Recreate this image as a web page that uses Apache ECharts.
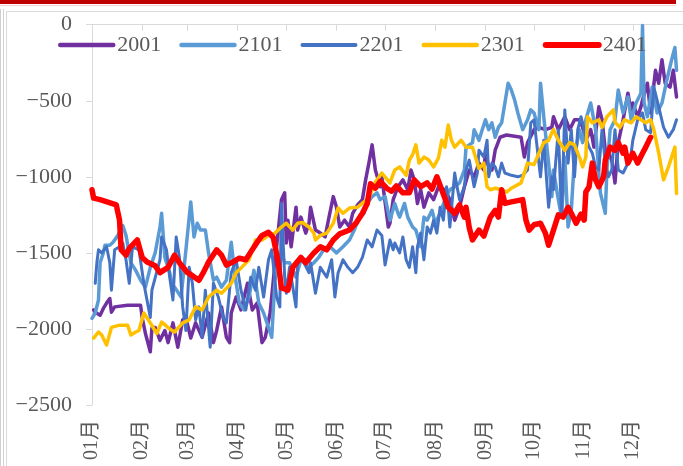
<!DOCTYPE html>
<html>
<head>
<meta charset="utf-8">
<script src="https://cdn.jsdelivr.net/npm/echarts@6/dist/echarts.min.js"></script>
<style>
  html, body { margin: 0; padding: 0; background: #fff; }
  #chart { width: 683px; height: 466px; }
</style>
</head>
<body>
<div id="chart"></div>
<script>
// x = day of year (0 = 1 Jan), y = spread value
const monthStarts = [0, 31, 59, 90, 120, 151, 181, 212, 243, 273, 304, 334];
const monthLabels = ['01月', '02月', '03月', '04月', '05月', '06月', '07月', '08月', '09月', '10月', '11月', '12月'];
const seriesNames = ['2001', '2101', '2201', '2301', '2401'];
const seriesColors = ['#7030A0', '#5B9BD5', '#4472C4', '#FFC000', '#FF0000'];
const seriesWidths = [3.5, 3.5, 3, 3.5, 5.5];
const legendWidths = [4.5, 4.5, 4, 4.5, 6];

const days2001 = [1,2,5,7,9,11,12,14,22,30,31,33,36,37,39,42,45,47,50,53,56,58,61,64,68,72,75,77,80,83,85,86,89,92,96,99,102,105,107,110,112,114,117,119,120,121,123,126,127,129,132,134,135,138,141,144,146,149,151,153,156,159,161,164,167,169,171,173,175,178,179,183,184,186,189,192,195,197,199,201,203,205,208,211,214,218,221,224,227,230,233,236,239,242,243,245,247,249,252,256,265,267,269,273,276,280,284,285,288,292,295,298,301,303,305,308,310,313,315,317,319,321,323,325,328,331,333,334,337,339,340,343,345,348,350,352,354,357,359,361];
const vals2001 = [-1875,-1890,-1910,-1865,-1830,-1800,-1890,-1855,-1845,-1845,-1925,-2030,-2150,-1995,-1990,-2075,-2010,-2090,-1960,-2120,-1940,-1925,-2060,-1960,-2055,-1895,-2090,-2010,-1855,-2055,-2090,-1895,-1790,-1875,-1700,-1875,-1830,-2090,-2055,-1895,-1680,-1460,-1150,-1105,-1435,-1285,-1460,-1200,-1350,-1265,-1370,-1305,-1200,-1350,-1370,-1395,-1285,-1130,-1200,-1330,-1285,-1330,-1240,-1185,-1150,-1020,-910,-790,-955,-1065,-1000,-1330,-1305,-1150,-1065,-1020,-1085,-955,-1020,-1175,-1085,-1200,-1105,-1150,-1065,-1085,-1150,-1285,-1200,-1065,-955,-1000,-910,-955,-845,-935,-955,-825,-740,-725,-740,-870,-775,-690,-675,-690,-675,-605,-690,-605,-690,-625,-625,-675,-760,-690,-805,-540,-625,-825,-845,-890,-1040,-775,-625,-450,-580,-515,-605,-540,-495,-385,-580,-300,-385,-230,-385,-410,-300,-475];

const days2101 = [0,2,4,5,7,8,11,13,16,19,21,24,27,30,33,36,39,42,43,45,48,50,51,55,58,61,63,65,67,70,72,75,77,80,83,86,88,91,94,97,100,103,106,109,111,113,115,117,119,122,126,129,134,137,140,143,147,151,155,159,162,165,168,170,173,176,178,181,182,184,187,189,190,193,195,198,200,203,205,207,210,212,215,218,221,224,227,230,231,235,236,239,241,243,245,247,249,251,253,257,259,261,263,266,269,271,273,276,277,279,282,284,285,288,290,292,294,296,298,301,303,305,308,311,314,317,318,320,323,325,328,331,333,336,339,340,341,343,346,349,352,355,358,360,361];
const vals2101 = [-1930,-1895,-1810,-1565,-1500,-1450,-1450,-1430,-1385,-1320,-1385,-1565,-1615,-1680,-1725,-1595,-1500,-1330,-1240,-1530,-1630,-1745,-1725,-1790,-1480,-1165,-1395,-1305,-1350,-1350,-1500,-1680,-1660,-1725,-1680,-1430,-1630,-1830,-1875,-1790,-1615,-1830,-1895,-1990,-2055,-1680,-1565,-1500,-1565,-1565,-1660,-1545,-1595,-1565,-1530,-1480,-1460,-1500,-1460,-1415,-1350,-1265,-1240,-1175,-1130,-1105,-1150,-1130,-1185,-1285,-1175,-1240,-1265,-1175,-1265,-1330,-1350,-1460,-1265,-1285,-1220,-1305,-1240,-1150,-1085,-1065,-1040,-955,-805,-775,-690,-760,-690,-625,-690,-645,-740,-675,-645,-385,-430,-495,-580,-690,-625,-560,-580,-690,-385,-605,-910,-1130,-955,-1150,-1265,-870,-1330,-1220,-870,-690,-775,-625,-515,-690,-1105,-1240,-955,-690,-625,-430,-580,-475,-625,-515,-450,-5,-515,-605,-410,-580,-515,-365,-230,-150,-300];

const days2201 = [2,3,4,6,9,11,12,14,17,19,21,23,25,29,32,36,37,42,43,46,48,50,52,54,56,58,60,62,64,66,68,70,73,75,78,81,83,86,89,92,95,98,101,103,106,109,111,114,116,117,119,120,122,126,127,130,134,135,138,141,145,148,150,152,155,158,161,164,167,170,173,176,179,181,184,186,187,190,192,194,196,198,200,201,203,205,207,209,211,213,215,217,219,221,224,225,227,230,231,233,236,238,239,242,244,245,247,249,251,253,255,259,263,266,269,271,273,276,277,279,282,284,285,288,290,292,294,296,298,300,302,304,305,307,309,311,313,315,317,319,321,323,325,328,331,333,334,337,340,342,345,347,350,353,356,359,361];
const vals2201 = [-1700,-1565,-1480,-1500,-1460,-1565,-1745,-1480,-1460,-1435,-1545,-1700,-1460,-1480,-1700,-1925,-1745,-1545,-1395,-1480,-1660,-1810,-1395,-1530,-1855,-2010,-1595,-1700,-1940,-1855,-2055,-1745,-2120,-1700,-1790,-1925,-1960,-1630,-1545,-1745,-1875,-1660,-1745,-1595,-1790,-1545,-1480,-1790,-1855,-1175,-1660,-1765,-1595,-1855,-1565,-1545,-1630,-1565,-1765,-1595,-1660,-1545,-1790,-1630,-1545,-1595,-1630,-1595,-1530,-1415,-1460,-1350,-1385,-1580,-1415,-1480,-1435,-1500,-1395,-1545,-1595,-1460,-1630,-1460,-1370,-1545,-1330,-1370,-1285,-1370,-1200,-1285,-1065,-1330,-975,-1040,-1150,-1065,-955,-890,-1065,-975,-825,-870,-760,-1000,-910,-935,-1000,-910,-975,-990,-1000,-990,-955,-645,-625,-910,-1000,-760,-1200,-1000,-1085,-690,-1265,-560,-910,-690,-1000,-690,-605,-690,-740,-805,-845,-935,-955,-690,-910,-1000,-955,-690,-955,-975,-910,-845,-760,-625,-580,-690,-710,-410,-540,-675,-740,-690,-625];

const days2301 = [1,4,6,9,12,17,22,24,27,29,32,36,40,43,48,51,56,60,64,68,72,77,80,86,89,92,97,101,105,109,113,117,120,124,127,130,134,137,138,141,145,149,152,155,159,164,168,171,175,179,184,187,190,194,196,198,200,202,205,208,211,214,216,218,220,222,224,228,231,235,238,239,242,244,246,249,253,256,259,265,269,273,276,279,282,284,285,288,292,295,298,301,303,305,306,309,313,315,318,322,323,326,329,333,336,339,342,345,347,350,353,356,360,361];
const vals2301 = [-2060,-2020,-2040,-2105,-1990,-1975,-1975,-2040,-2020,-2010,-1895,-1960,-2030,-1955,-2000,-2020,-1960,-1940,-1855,-1875,-1790,-1745,-1765,-1700,-1630,-1600,-1545,-1415,-1415,-1385,-1370,-1330,-1305,-1350,-1305,-1300,-1330,-1370,-1415,-1385,-1370,-1305,-1205,-1240,-1205,-1200,-1165,-1140,-1035,-975,-1040,-955,-935,-990,-890,-855,-790,-910,-870,-890,-935,-875,-760,-805,-660,-760,-805,-760,-805,-805,-910,-945,-910,-1065,-1085,-1075,-1085,-1100,-1075,-1040,-910,-920,-845,-775,-760,-710,-690,-760,-825,-775,-790,-870,-935,-870,-605,-645,-625,-675,-605,-560,-640,-675,-625,-645,-605,-625,-645,-625,-690,-845,-1020,-935,-805,-1110];

const days2401 = [0,1,5,15,17,18,21,23,28,31,34,39,42,47,51,54,59,62,66,69,72,77,80,83,87,91,95,98,102,105,109,112,115,117,121,124,129,132,137,141,145,149,153,159,163,167,170,172,175,178,182,185,188,192,196,199,203,207,210,213,216,220,224,227,230,231,233,235,239,242,246,249,251,253,255,259,266,268,270,273,277,280,282,285,288,291,294,296,299,302,304,305,307,309,311,313,316,317,320,323,325,328,329,331,334,337,340,342,344,345];
const vals2401 = [-1085,-1140,-1150,-1185,-1285,-1480,-1515,-1470,-1415,-1530,-1560,-1585,-1630,-1595,-1515,-1565,-1630,-1650,-1680,-1625,-1560,-1480,-1515,-1580,-1560,-1535,-1545,-1495,-1430,-1385,-1365,-1400,-1560,-1730,-1745,-1595,-1530,-1565,-1500,-1460,-1480,-1415,-1375,-1350,-1305,-1240,-1175,-1045,-1075,-1030,-1075,-1095,-1060,-1105,-1105,-1020,-1065,-1040,-1080,-1000,-1085,-1200,-1240,-1185,-1265,-1200,-1335,-1415,-1350,-1390,-1265,-1220,-1265,-1085,-1175,-1165,-1150,-1285,-1350,-1315,-1305,-1370,-1450,-1350,-1250,-1265,-1200,-1240,-1305,-1245,-1285,-1100,-1065,-910,-1020,-1065,-1000,-890,-805,-825,-775,-845,-805,-910,-845,-910,-845,-805,-760,-740];

const allDays = [days2001, days2101, days2201, days2301, days2401];
const allVals = [vals2001, vals2101, vals2201, vals2301, vals2401];

const font = "'Liberation Serif', 'Noto Sans CJK SC', serif";
const grey = '#D9D9D9';
const textGrey = '#595959';

const zip = (d, v) => d.map((x, i) => [x, v[i]]).filter(p => p[1] != null);

const chart = echarts.init(document.getElementById('chart'));

chart.setOption({
  animation: false,
  backgroundColor: '#fff',
  graphic: [
    { type: 'rect', shape: { x: 0, y: 0, width: 676, height: 4 }, style: { fill: '#C00000' }, silent: true },
    { type: 'line', shape: { x1: 0, y1: 5.5, x2: 676, y2: 5.5 }, style: { stroke: '#F4D0D0', lineWidth: 1 }, silent: true },
    { type: 'line', shape: { x1: 0.5, y1: 9, x2: 0.5, y2: 466 }, style: { stroke: '#D0D0D0', lineWidth: 1 }, silent: true },
    { type: 'line', shape: { x1: 3.5, y1: 9, x2: 3.5, y2: 466 }, style: { stroke: '#D0D0D0', lineWidth: 1 }, silent: true },
    { type: 'rect', shape: { x: 6.5, y: 11.5, width: 700, height: 500 }, style: { fill: 'none', stroke: grey, lineWidth: 1 }, silent: true }
  ],
  grid: { left: 92, top: 24.7, right: -5, bottom: 61 },
  legend: {
    data: seriesNames.map((name, i) => ({ name, lineStyle: { width: legendWidths[i] } })),
    left: 58,
    top: 34,
    padding: 0,
    itemWidth: 53,
    itemHeight: 14,
    itemGap: 18,
    itemStyle: { opacity: 0 },
    textStyle: { fontFamily: font, fontSize: 22, color: textGrey, padding: [0, 0, 0, -1] }
  },
  xAxis: [
    {
      type: 'value', min: 0, max: 365, position: 'bottom',
      axisLine: { show: false }, axisTick: { show: false }, splitLine: { show: false },
      axisLabel: {
        customValues: monthStarts,
        formatter: v => monthLabels[monthStarts.indexOf(v)],
        rotate: 90, margin: 15,
        fontFamily: font, fontSize: 20, color: textGrey
      }
    },
    {
      type: 'value', min: 0, max: 365, position: 'top',
      axisLine: { show: true, onZero: false, lineStyle: { color: grey, width: 1 } },
      axisTick: { show: true, inside: true, length: 6, customValues: monthStarts, lineStyle: { color: grey } },
      axisLabel: { show: false }, splitLine: { show: false }
    }
  ],
  yAxis: {
    type: 'value', min: -2500, max: 0, interval: 500,
    axisLine: { show: true, onZero: false, lineStyle: { color: grey, width: 1 } },
    axisTick: { show: true, length: 6, lineStyle: { color: grey } },
    splitLine: { show: false },
    axisLabel: {
      formatter: v => String(v).replace('-', '\u2212'),
      margin: 20, fontFamily: font, fontSize: 22, color: textGrey
    }
  },
  series: seriesNames.map((name, i) => ({
    name,
    type: 'line',
    xAxisIndex: 0,
    data: zip(allDays[i], allVals[i]),
    symbol: 'none',
    showSymbol: false,
    color: seriesColors[i],
    lineStyle: { width: seriesWidths[i], color: seriesColors[i], join: 'round', cap: 'round' },
    z: 2 + i
  }))
});
</script>
</body>
</html>
